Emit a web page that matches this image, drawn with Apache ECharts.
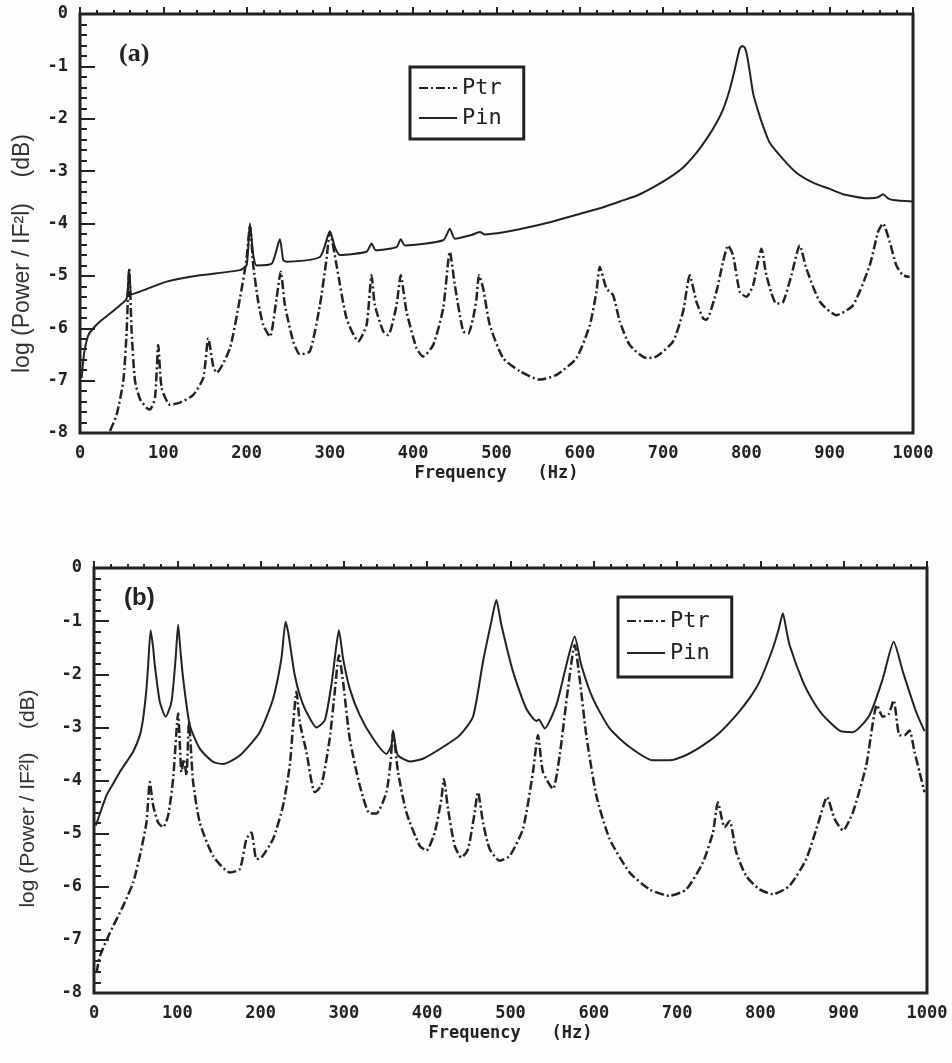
<!DOCTYPE html>
<html>
<head>
<meta charset="utf-8">
<script src="https://cdn.jsdelivr.net/npm/echarts@6/dist/echarts.min.js"></script>
<style>
  html, body { margin: 0; padding: 0; background: #fdfdfc; }
  #chart { width: 952px; height: 1063px; }
</style>
</head>
<body>
<div id="chart"></div>
<script>
// panel (a): [frequency Hz, log level]
var ptrA = [[36,-7.96],[44,-7.65],[52,-7.0],[56,-6.06],[59,-4.86],[62,-6.06],[66,-7.0],[72,-7.35],[80,-7.52],[84,-7.55],[90,-7.33],[94,-6.32],[98,-7.14],[108,-7.46],[120,-7.42],[136,-7.27],[148,-6.95],[154,-6.19],[160,-6.73],[164,-6.85],[180,-6.38],[192,-5.43],[200,-4.67],[204,-4.04],[208,-4.8],[214,-5.5],[220,-5.94],[228,-6.16],[236,-5.43],[241,-4.92],[246,-5.56],[256,-6.25],[264,-6.5],[276,-6.44],[288,-5.56],[296,-4.67],[300,-4.16],[308,-4.8],[320,-5.81],[334,-6.25],[344,-5.94],[350,-4.99],[354,-5.56],[364,-6.06],[370,-6.13],[380,-5.56],[385,-4.99],[392,-5.68],[404,-6.38],[412,-6.54],[424,-6.32],[436,-5.62],[444,-4.54],[450,-5.18],[460,-6.06],[466,-6.1],[472,-5.8],[476,-5.43],[479,-4.99],[484,-5.24],[492,-5.94],[508,-6.57],[528,-6.82],[552,-6.98],[572,-6.89],[596,-6.57],[612,-5.94],[620,-5.3],[624,-4.83],[632,-5.24],[640,-5.37],[648,-5.87],[660,-6.32],[680,-6.57],[692,-6.54],[712,-6.25],[724,-5.68],[732,-4.99],[740,-5.49],[748,-5.81],[752,-5.84],[764,-5.3],[772,-4.73],[778,-4.42],[784,-4.61],[792,-5.3],[800,-5.4],[808,-5.18],[813,-4.8],[818,-4.48],[824,-4.99],[836,-5.53],[844,-5.5],[854,-4.99],[864,-4.42],[872,-4.86],[888,-5.49],[908,-5.75],[928,-5.56],[948,-4.8],[958,-4.16],[964,-4.0],[972,-4.35],[980,-4.8],[988,-4.99],[996,-5.02]];

var pinA = [[2,-6.95],[4,-6.6],[6,-6.38],[10,-6.13],[16,-6.0],[24,-5.87],[36,-5.72],[48,-5.56],[56,-5.43],[59,-4.9],[62,-5.35],[72,-5.3],[104,-5.11],[144,-4.99],[192,-4.89],[200,-4.8],[204,-4.0],[208,-4.6],[212,-4.8],[230,-4.77],[240,-4.3],[244,-4.7],[248,-4.73],[288,-4.64],[300,-4.15],[306,-4.45],[312,-4.6],[344,-4.54],[350,-4.38],[355,-4.51],[380,-4.45],[385,-4.3],[390,-4.42],[436,-4.32],[444,-4.1],[450,-4.29],[470,-4.22],[480,-4.16],[486,-4.21],[548,-4.04],[608,-3.78],[628,-3.69],[648,-3.58],[668,-3.47],[688,-3.31],[708,-3.12],[724,-2.93],[740,-2.65],[752,-2.39],[764,-2.08],[772,-1.82],[780,-1.44],[786,-1.06],[789,-0.85],[792,-0.66],[795,-0.61],[798,-0.64],[801,-0.81],[804,-1.1],[808,-1.51],[814,-1.85],[820,-2.14],[828,-2.46],[844,-2.77],[860,-3.03],[880,-3.22],[900,-3.34],[916,-3.44],[948,-3.52],[958,-3.5],[964,-3.44],[970,-3.52],[976,-3.55],[1000,-3.58]];

// panel (b)
var ptrB = [[3,-7.62],[7,-7.31],[19,-6.87],[35,-6.36],[47,-5.92],[55,-5.42],[63,-4.79],[67,-4.03],[71,-4.47],[77,-4.79],[83,-4.88],[89,-4.66],[95,-3.97],[101,-2.74],[103,-3.3],[105,-3.84],[108,-3.6],[111,-3.9],[114,-2.9],[119,-4.03],[127,-4.79],[143,-5.42],[163,-5.73],[175,-5.67],[183,-5.1],[189,-4.98],[195,-5.48],[201,-5.45],[215,-5.1],[227,-4.47],[235,-3.72],[239,-2.96],[243,-2.33],[247,-2.9],[255,-3.46],[265,-4.22],[273,-4.09],[283,-3.21],[289,-2.33],[294,-1.64],[299,-2.14],[307,-3.21],[319,-4.09],[331,-4.62],[339,-4.62],[351,-4.22],[356,-3.65],[359,-3.09],[365,-3.84],[375,-4.6],[391,-5.23],[399,-5.32],[409,-4.98],[417,-4.35],[420,-3.97],[425,-4.54],[433,-5.23],[441,-5.45],[449,-5.29],[456,-4.7],[461,-4.22],[467,-4.79],[475,-5.29],[487,-5.51],[499,-5.42],[515,-4.91],[527,-3.84],[533,-3.15],[539,-3.84],[551,-4.16],[559,-3.53],[569,-2.27],[577,-1.45],[583,-2.08],[591,-3.15],[603,-4.28],[619,-5.1],[643,-5.73],[667,-6.05],[691,-6.17],[711,-6.05],[731,-5.54],[743,-4.98],[749,-4.41],[757,-4.88],[763,-4.76],[771,-5.35],[783,-5.8],[799,-6.05],[815,-6.14],[835,-5.98],[855,-5.48],[871,-4.72],[880,-4.31],[889,-4.72],[899,-4.94],[911,-4.6],[927,-3.72],[940,-2.58],[947,-2.8],[954,-2.75],[960,-2.49],[967,-3.15],[973,-3.15],[979,-3.06],[985,-3.46],[991,-3.84],[997,-4.22]];

var pinB = [[2,-4.85],[5,-4.72],[15,-4.28],[23,-4.06],[31,-3.84],[39,-3.65],[47,-3.46],[55,-3.15],[59,-2.83],[63,-2.27],[65,-1.83],[68,-1.17],[71,-1.5],[73,-1.83],[79,-2.52],[86,-2.8],[93,-2.52],[98,-1.7],[101,-1.07],[104,-1.6],[107,-2.08],[115,-2.96],[127,-3.4],[143,-3.65],[155,-3.69],[175,-3.53],[199,-3.09],[215,-2.46],[225,-1.7],[230,-1.01],[233,-1.2],[236,-1.51],[241,-2.02],[247,-2.39],[255,-2.71],[267,-3.0],[277,-2.87],[285,-2.2],[291,-1.45],[294,-1.17],[299,-1.7],[307,-2.27],[319,-2.77],[335,-3.21],[351,-3.5],[357,-3.34],[359,-3.06],[362,-3.35],[365,-3.53],[379,-3.64],[395,-3.59],[419,-3.37],[439,-3.15],[455,-2.8],[467,-1.76],[477,-1.01],[483,-0.6],[489,-1.07],[503,-1.95],[519,-2.65],[531,-2.88],[534,-2.85],[541,-3.02],[555,-2.58],[567,-1.83],[577,-1.29],[585,-1.83],[599,-2.46],[619,-3.02],[643,-3.37],[671,-3.62],[691,-3.62],[711,-3.52],[731,-3.34],[751,-3.1],[771,-2.77],[787,-2.45],[799,-2.14],[815,-1.51],[822,-1.15],[827,-0.85],[831,-1.15],[835,-1.45],[851,-2.14],[863,-2.5],[875,-2.77],[895,-3.06],[911,-3.09],[931,-2.77],[947,-2.08],[960,-1.39],[971,-1.95],[987,-2.71],[997,-3.07]];

var seriesNames = ['Ptr', 'Pin'];
var panelLabels = ['(a)', '(b)'];
var xTitle = 'Frequency   (Hz)';
var yTitle = 'log (Power / IF\u00b2l)    (dB)';

var ink = '#222';
var tickFont = { fontFamily: 'DejaVu Sans Mono', fontWeight: 'bold', fontSize: 17, color: ink };

function xAxisFor(grid) {
  return {
    type: 'value', gridIndex: grid, min: 0, max: 1000, interval: 100,
    name: xTitle, nameLocation: 'middle', nameGap: 32,
    nameTextStyle: { fontFamily: 'DejaVu Sans Mono', fontWeight: 'bold', fontSize: 17, color: ink },
    axisLine: { show: false },
    axisTick: { inside: true, length: 7, lineStyle: { color: ink, width: 2 } },
    minorTick: { show: true, splitNumber: 5, length: 4, lineStyle: { color: ink, width: 2 } },
    splitLine: { show: false },
    axisLabel: Object.assign({ margin: 12, formatter: function (v) { return String(v); } }, tickFont)
  };
}

// shift moves the rotated title down the page (right padding in text frame)
function yAxisFor(grid, gap, nameSize, shift) {
  return {
    type: 'value', gridIndex: grid, min: -8, max: 0, interval: 1,
    name: yTitle, nameLocation: 'middle', nameGap: gap, nameRotate: 90,
    nameTextStyle: { fontFamily: 'Liberation Sans', fontSize: nameSize, color: '#333', padding: [0, shift, 0, 0] },
    axisLine: { show: false },
    axisTick: { inside: true, length: 15, lineStyle: { color: ink, width: 2 } },
    minorTick: { show: true, splitNumber: 5, length: 7, lineStyle: { color: ink, width: 2 } },
    splitLine: { show: false },
    axisLabel: Object.assign({ margin: 12 }, tickFont)
  };
}

function ptrSeries(grid, data) {
  return {
    name: 'Ptr', type: 'line', xAxisIndex: grid, yAxisIndex: grid, data: data,
    symbol: 'none', showSymbol: false, smooth: 0.2,
    itemStyle: { color: ink },
    lineStyle: { color: ink, width: 2.5, type: [9, 3, 2, 3] }
  };
}

function pinSeries(grid, data) {
  return {
    name: 'Pin', type: 'line', xAxisIndex: grid, yAxisIndex: grid, data: data,
    symbol: 'none', showSymbol: false, smooth: 0.2,
    itemStyle: { color: ink },
    lineStyle: { color: ink, width: 2 }
  };
}

function legendAt(left, top, pad, gap) {
  return {
    left: left, top: top, orient: 'vertical', data: seriesNames,
    selectedMode: false, borderColor: ink, borderWidth: 3, borderRadius: 0,
    padding: pad, itemGap: gap, itemWidth: 38, itemHeight: 14,
    itemStyle: { opacity: 0 },
    textStyle: { fontFamily: 'DejaVu Sans Mono', fontSize: 22, color: ink }
  };
}

var chart = echarts.init(document.getElementById('chart'));
chart.setOption({
  backgroundColor: '#fdfdfc',
  animation: false,
  grid: [
    { left: 80, top: 14, width: 833, height: 419, show: true, borderColor: ink, borderWidth: 3 },
    { left: 94, top: 568, width: 833, height: 425, show: true, borderColor: ink, borderWidth: 3 }
  ],
  xAxis: [xAxisFor(0), xAxisFor(1)],
  yAxis: [yAxisFor(0, 46, 23, 60), yAxisFor(1, 55, 21, 36)],
  legend: [legendAt(410, 67, [10, 22, 10, 8], 8), legendAt(618, 597, [13, 22, 13, 8], 10)],
  graphic: [
    { type: 'text', left: 119, top: 41, style: { text: panelLabels[0], font: 'bold 26px "Liberation Serif"', fill: ink } },
    { type: 'text', left: 124, top: 586, style: { text: panelLabels[1], font: 'bold 24px "Liberation Sans"', fill: ink } }
  ],
  series: [ptrSeries(0, ptrA), pinSeries(0, pinA), ptrSeries(1, ptrB), pinSeries(1, pinB)]
});
</script>
</body>
</html>
